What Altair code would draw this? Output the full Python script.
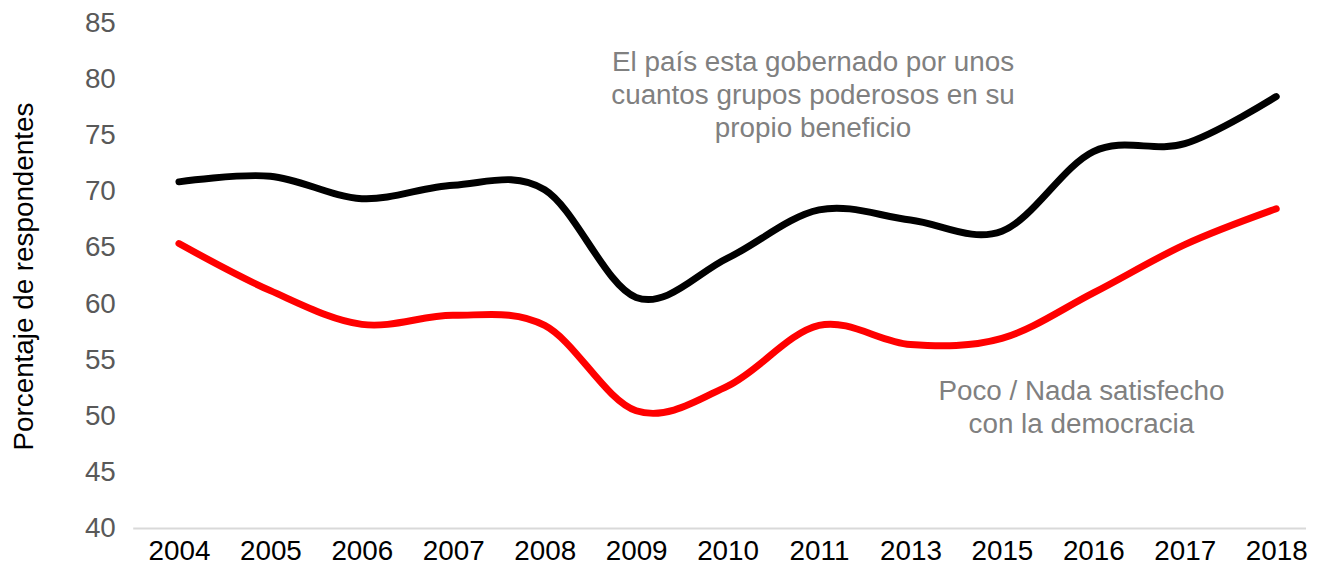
import altair as alt
import pandas as pd

years = ["2004", "2005", "2006", "2007", "2008", "2009", "2010", "2011", "2013", "2015", "2016", "2017", "2018"]
gobernado = [70.9, 71.4, 69.4, 70.6, 70.2, 60.6, 64.1, 68.4, 67.5, 66.5, 73.6, 74.3, 78.5]
satisfecho = [65.4, 61.2, 58.2, 59.0, 58.1, 50.5, 52.7, 58.1, 56.4, 56.95, 61.0, 65.3, 68.5]
y_ticks = [40, 45, 50, 55, 60, 65, 70, 75, 80, 85]

series_names = ["gobernado", "satisfecho"]
series_colors = ["#000000", "#ff0000"]

rows = []
for name, vals in zip(series_names, [gobernado, satisfecho]):
    for yr, v in zip(years, vals):
        rows.append({"year": yr, "value": v, "serie": name})
df = pd.DataFrame(rows)

ann1 = pd.DataFrame([{"year": "2011", "value": 81.45,
                      "label": "El país esta gobernado por unos\ncuantos grupos poderosos en su\npropio beneficio"}])
ann2 = pd.DataFrame([{"year": "2016", "value": 52.13,
                      "label": "Poco / Nada satisfecho\ncon la democracia"}])
base_df = pd.DataFrame([{"value": 40}])

FONT = "Liberation Sans"
W = 1180

x_scale = alt.Scale(type="point", range=[46, 1150], padding=0)

x_enc = alt.X("year:O", sort=years, scale=x_scale,
              axis=alt.Axis(title=None, labelAngle=0, labelFontSize=28, labelColor="#000000",
                            labelFont=FONT, domain=False, ticks=False, labelPadding=9, grid=False))
y_enc = alt.Y("value:Q", scale=alt.Scale(domain=[40, 85], nice=False, zero=False),
              axis=alt.Axis(title="Porcentaje de respondentes", values=y_ticks,
                            titleFontSize=28, titleFont=FONT, titleColor="#000000",
                            titleFontWeight="normal", titlePadding=46,
                            labelFontSize=28, labelFont=FONT, labelColor="#595959",
                            labelPadding=18, domain=False, ticks=False, grid=False))

baseline = alt.Chart(base_df).mark_rule(color="#d9d9d9", strokeWidth=2).encode(
    y=alt.Y("value:Q"), x=alt.value(0), x2=alt.value(W),
)

lines = alt.Chart(df).mark_line(interpolate="cardinal", strokeWidth=7, strokeCap="round").encode(
    x=x_enc, y=y_enc,
    color=alt.Color("serie:N", scale=alt.Scale(domain=series_names, range=series_colors), legend=None),
    detail="serie:N",
)

def ann_layer(d, dx):
    return alt.Chart(d).mark_text(fontSize=28, font=FONT, color="#808080", align="center",
                                  baseline="middle", lineBreak="\n", lineHeight=33, dx=dx).encode(
        x=alt.X("year:O", sort=years), y=alt.Y("value:Q"), text="label:N")

chart = alt.layer(baseline, lines, ann_layer(ann1, -6), ann_layer(ann2, -12)).properties(
    width=W, height=508,
    background="#ffffff",
    autosize=alt.AutoSizeParams(type="none"),
    padding={"left": 126, "top": 14, "right": 6, "bottom": 40},
).configure_view(strokeWidth=0, stroke="transparent")

chart.save("out.html", embed_options={"renderer": "svg", "actions": False})
